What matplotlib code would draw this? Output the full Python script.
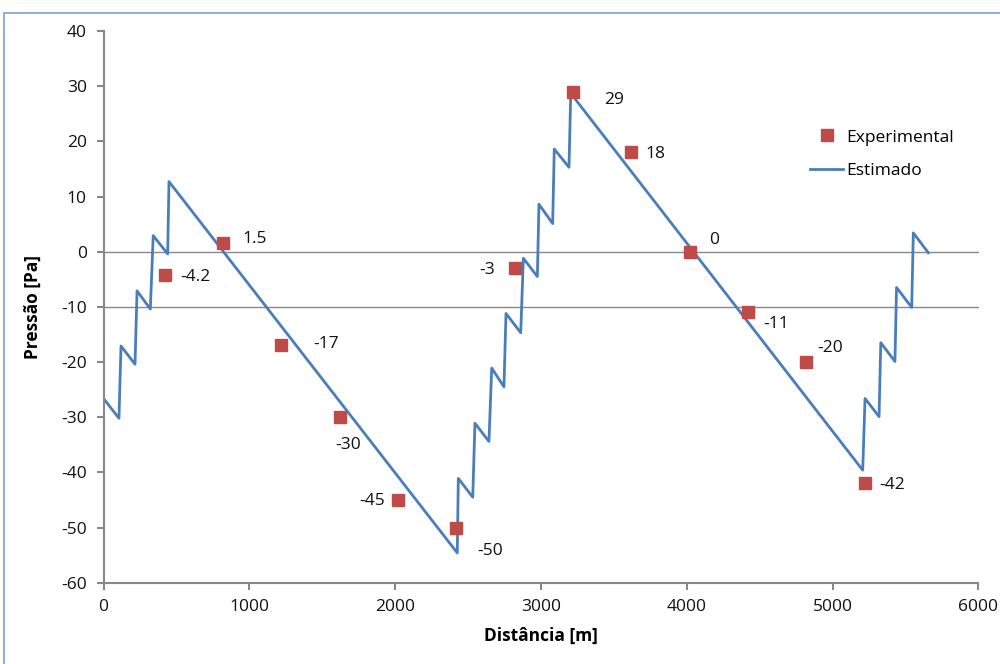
import matplotlib
matplotlib.use('Agg')
from matplotlib import pyplot as plt
from matplotlib.patches import Rectangle

plt.rcParams['font.family'] = ['Open Sans', 'DejaVu Sans']
plt.rcParams['axes.unicode_minus'] = False

# estimated pressure line (vertices)
line_x = [0, 106, 120, 216, 230, 321, 341, 440, 449, 2426, 2433, 2532, 2547, 2643, 2662, 2746, 2760,
          2861, 2879, 2975, 2986, 3080, 3091, 3192, 3204, 5206, 5222, 5318, 5330, 5427, 5438, 5542,
          5553, 5656]
line_y = [-26.6, -30.2, -17.1, -20.4, -7.1, -10.4, 2.9, -0.4, 12.7, -54.6, -41.1, -44.5, -31.1, -34.4,
          -21.1, -24.5, -11.2, -14.7, -1.2, -4.5, 8.6, 5.1, 18.6, 15.3, 28.7, -39.6, -26.6, -29.9,
          -16.5, -19.9, -6.5, -10.1, 3.4, -0.2]

# experimental points
exp_x = [420, 820, 1220, 1620, 2020, 2420, 2820, 3220, 3620, 4020, 4420, 4820, 5220]
exp_y = [-4.2, 1.5, -17, -30, -45, -50, -3, 29, 18, 0, -11, -20, -42]
exp_labels = ['-4.2', '1.5', '-17', '-30', '-45', '-50', '-3', '29', '18', '0', '-11', '-20', '-42']
label_offsets = [(31, -2), (32, 4), (45, 1), (8, -28), (-26, -1), (34, -23), (-28, -2),
                 (41, -8), (24, -2), (24, 12), (28, -12), (24, 14), (27, -2)]

line_color = '#4a7ebb'
marker_color = '#be4b48'
axis_color = '#888888'

fig = plt.figure(figsize=(10, 6.64), dpi=100)
ax = fig.add_axes([103.5 / 1000, 1 - 582.7 / 664, 875 / 1000, (582.7 - 31) / 664])

# outer chart border
fig.patches.append(Rectangle((4 / 1000, -0.1), 1.0, 1.1 - 13 / 664, transform=fig.transFigure,
                             fill=False, edgecolor='#7f9fcf', linewidth=1.2))

ax.axhline(0, color=axis_color, linewidth=1, zorder=1)
ax.axhline(-10, color=axis_color, linewidth=1, zorder=1)

ax.plot(exp_x, exp_y, linestyle='none', marker='s', markersize=8, color=marker_color,
        label='Experimental', zorder=3)
ax.plot(line_x, line_y, color=line_color, linewidth=2, label='Estimado', zorder=2)

for x, y, text, (dx, dy) in zip(exp_x, exp_y, exp_labels, label_offsets):
    ax.annotate(text, (x, y), xytext=(dx, dy), textcoords='offset pixels',
                ha='center', va='center', fontsize=12.5, color='#111111')

ax.set_xlim(0, 6000)
ax.set_ylim(-60, 40)
ax.set_xticks(range(0, 6001, 1000))
ax.set_yticks(range(-60, 41, 10))
ax.tick_params(colors=axis_color, labelcolor='#111111', labelsize=12.5, length=5, width=1.5, pad=7)

for side in ['top', 'right']:
    ax.spines[side].set_visible(False)
for side in ['left', 'bottom']:
    ax.spines[side].set_color(axis_color)
    ax.spines[side].set_linewidth(1.5)

ax.set_xlabel('Distância [m]', fontsize=12.5, fontweight='bold', labelpad=8)
ax.set_ylabel('Pressão [Pa]', fontsize=12.5, fontweight='bold', labelpad=14)

# legend
handles, labels = ax.get_legend_handles_labels()
ax.legend(handles, labels, loc='upper left', bbox_to_anchor=(0.79, 0.85), frameon=False,
          fontsize=12.5, handlelength=1.9, handletextpad=0.15, labelspacing=1.0)

fig.savefig('out.png', dpi=100)
